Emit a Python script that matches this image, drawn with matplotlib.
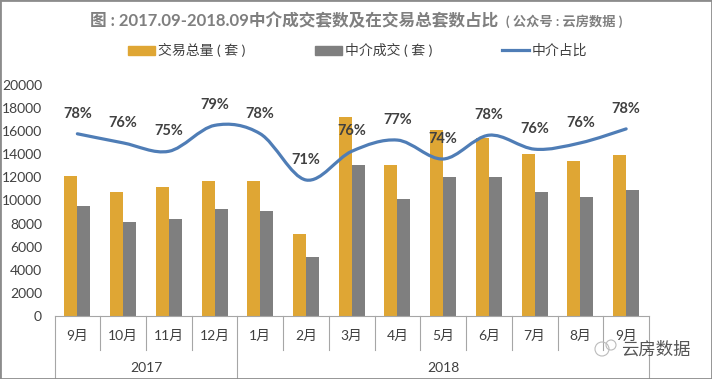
import matplotlib
matplotlib.use('Agg')
import matplotlib.pyplot as plt
from matplotlib.lines import Line2D
from matplotlib.patches import Patch, PathPatch, Circle
from matplotlib.path import Path
import numpy as np

months = ['9月', '10月', '11月', '12月', '1月', '2月', '3月', '4月', '5月', '6月', '7月', '8月', '9月']
total = [12100, 10700, 11200, 11700, 11700, 7100, 17200, 13100, 16100, 15400, 14000, 13400, 13900]
agent = [9500, 8100, 8400, 9300, 9100, 5100, 13100, 10100, 12000, 12000, 10700, 10300, 10900]
share = [77.6, 76.3, 75.1, 78.8, 77.6, 71.0, 75.1, 76.7, 74.0, 77.4, 75.4, 76.3, 78.3]
share_labels = ['78%', '76%', '75%', '79%', '78%', '71%', '76%', '77%', '74%', '78%', '76%', '76%', '78%']
yticks = [0, 2000, 4000, 6000, 8000, 10000, 12000, 14000, 16000, 18000, 20000]
years = ['2017', '2018']
year_spans = [(0, 4), (4, 13)]

plt.rcParams['font.family'] = ['Lato', 'Noto Sans CJK SC', 'DejaVu Sans']

GOLD = '#DFA634'
GREY = '#7F7F7F'
BLUE = '#4F7DB6'
TEXT = '#404040'
W, H = 712, 379

fig = plt.figure(figsize=(W / 100, H / 100), dpi=100, facecolor='white')
ax = fig.add_axes([54.5 / W, 1 - 316 / H, 594.5 / W, 231 / H])

x = np.arange(len(months))
bw = 0.284
ax.bar(x - bw / 2, total, bw, color=GOLD)
ax.bar(x + bw / 2, agent, bw, color=GREY)
ax.set_xlim(-0.5, len(months) - 0.5)
ax.set_ylim(0, 20000)
ax.set_yticks(yticks)
ax.tick_params(axis='y', length=0, labelsize=10, labelcolor=TEXT, pad=9)
ax.set_xticks([])
for s in ['top', 'right', 'left']:
    ax.spines[s].set_visible(False)
ax.spines['bottom'].set_color('#A6A6A6')

# multi level category axis
tr = ax.get_xaxis_transform()
month_depth = -34 / 231
year_depth = -62 / 231
for i in range(len(months) + 1):
    d = year_depth if i in (0, 4, 13) else month_depth
    ax.plot([i - 0.5, i - 0.5], [0, d], transform=tr, color='#A6A6A6', lw=0.8, clip_on=False)
for i, m in enumerate(months):
    ax.text(i, -20 / 231, m, transform=tr, ha='center', va='center', fontsize=10, color=TEXT)
for y, (a, b) in zip(years, year_spans):
    ax.text((a + b - 1) / 2, -51.5 / 231, y, transform=tr, ha='center', va='center', fontsize=10, color=TEXT)

# share line, hidden secondary axis, smoothed like the spreadsheet line
ax2 = ax.twinx()
ax2.set_ylim(51.57, 84.57)
ax2.axis('off')
verts = [(x[0], share[0])]
codes = [Path.MOVETO]
n = len(share)
for i in range(n - 1):
    p0 = share[max(i - 1, 0)]
    p1, p2 = share[i], share[i + 1]
    p3 = share[min(i + 2, n - 1)]
    x0 = x[max(i - 1, 0)]
    x3 = x[min(i + 2, n - 1)]
    verts += [(x[i] + (x[i + 1] - x0) / 6, p1 + (p2 - p0) / 6),
              (x[i + 1] - (x3 - x[i]) / 6, p2 - (p3 - p1) / 6),
              (x[i + 1], p2)]
    codes += [Path.CURVE4] * 3
ax2.add_patch(PathPatch(Path(verts, codes), fc='none', ec=BLUE, lw=2.3, capstyle='round'))
for i, lab in enumerate(share_labels):
    ax2.annotate(lab, (x[i], share[i]), xytext=(0, 14.6), textcoords='offset points',
                 ha='center', va='center', fontsize=10.5, fontweight='bold', color=TEXT)

# title in two sizes
fig.text(90 / W, 1 - 21 / H, '图 : 2017.09-2018.09中介成交套数及在交易总套数占比', ha='left', va='center',
         fontsize=12, fontweight='bold', color=GREY)
fig.text(564 / W, 1 - 21 / H, '( 公众号 : 云房数据 )', ha='center', va='center',
         fontsize=9.5, fontweight='bold', color=GREY)

handles = [Patch(color=GOLD), Patch(color=GREY), Line2D([], [], color=BLUE, lw=2.3)]
fig.legend(handles, ['交易总量 ( 套 )', '中介成交 ( 套 )', '中介占比'], ncols=3, frameon=False,
           loc='center', bbox_to_anchor=(357.5 / W, 1 - 50 / H), fontsize=10, labelcolor=TEXT,
           handlelength=1.95, handleheight=0.6, handletextpad=0.2, columnspacing=5)

# watermark
fig.text(656 / W, 1 - 349 / H, '云房数据', ha='center', va='center', fontsize=12.5, color='#555555')
fig.add_artist(Circle((602, H - 349), 7, transform=None, fc='none', ec='#BBBBBB', lw=0.8))
fig.add_artist(Circle((611, H - 345), 5, transform=None, fc='none', ec='#BBBBBB', lw=0.8))

# image border
fig.add_artist(plt.Rectangle((0, 0), 1, 1, transform=fig.transFigure, fc='none', ec='#8C8C8C', lw=2))

fig.savefig('out.png', dpi=100)
